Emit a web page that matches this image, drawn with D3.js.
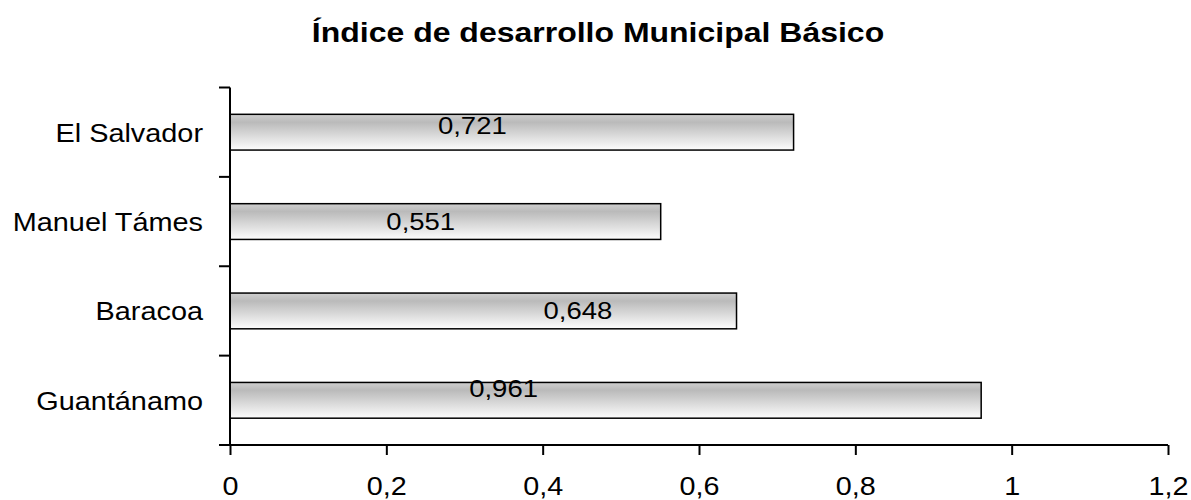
<!DOCTYPE html>
<html>
<head>
<meta charset="utf-8">
<script src="https://cdn.jsdelivr.net/npm/d3@7"></script>
<style>
  body { margin: 0; background: #fff; }
  text { font-family: "Liberation Sans", Arial, sans-serif; fill: #000; }
</style>
</head>
<body>
<div id="chart"></div>
<script>
// datos del grafico
var categories = ["El Salvador", "Manuel Támes", "Baracoa", "Guantánamo"];
var values = [0.721, 0.551, 0.648, 0.961];
// donde quedaron las etiquetas (en unidades del eje) y su desplazamiento vertical
var labelAt = [0.31, 0.244, 0.445, 0.350];
var labelShift = [-0.2, 0, 0, -0.33];
var xTicks = [0, 0.2, 0.4, 0.6, 0.8, 1, 1.2];

var width = 1191, height = 500;
var plotTop = 87.5, plotBottom = 445;

var svg = d3.select("#chart").append("svg")
  .attr("width", width)
  .attr("height", height);

var defs = svg.append("defs");
var grad = defs.append("linearGradient")
  .attr("id", "barGrad")
  .attr("x1", 0).attr("y1", 0).attr("x2", 0).attr("y2", 1);
grad.append("stop").attr("offset", "0%").attr("stop-color", "#cfcfcf");
grad.append("stop").attr("offset", "22%").attr("stop-color", "#bababa");
grad.append("stop").attr("offset", "100%").attr("stop-color", "#fdfdfd");

var x = d3.scaleLinear().domain([0, 1.2]).range([230, 1168]);
var y = d3.scaleBand().domain(categories)
  .range([plotTop, plotBottom])
  .paddingInner(0.6).paddingOuter(0.3);

// estira horizontalmente el texto como en el original
function stretch(sel, sx, px, py) {
  sel.attr("transform", "translate(" + px + "," + py + ") scale(" + sx + ",1)");
}

// titulo
svg.append("text")
  .attr("text-anchor", "middle")
  .attr("font-size", 27)
  .attr("font-weight", "bold")
  .text("Índice de desarrollo Municipal Básico")
  .call(stretch, 1.185, 598, 42);

// barras
svg.selectAll(".bar")
  .data(values)
  .enter()
  .append("rect")
  .attr("class", "bar")
  .attr("x", x(0))
  .attr("y", function (d, i) { return y(categories[i]); })
  .attr("width", function (d) { return x(d) - x(0); })
  .attr("height", y.bandwidth())
  .attr("fill", "url(#barGrad)")
  .attr("stroke", "#000")
  .attr("stroke-width", 1.5);

// etiquetas de valores
svg.selectAll(".lbl")
  .data(values)
  .enter()
  .append("text")
  .attr("class", "lbl")
  .attr("text-anchor", "middle")
  .attr("font-size", 23.5)
  .attr("transform", function (d, i) {
    var cy = y(categories[i]) + y.bandwidth() / 2 + labelShift[i] * y.bandwidth();
    return "translate(" + x(labelAt[i]) + "," + (cy + 8.5) + ") scale(1.17,1)";
  })
  .text(function (d) { return d3.format(".3f")(d).replace(".", ","); });

// eje x
var xAxis = d3.axisBottom(x)
  .tickValues(xTicks)
  .tickSize(10)
  .tickPadding(22)
  .tickFormat(function (d) { return String(d).replace(".", ","); });
var gx = svg.append("g")
  .attr("transform", "translate(0," + plotBottom + ")")
  .call(xAxis);
gx.select(".domain").attr("stroke", "#000").attr("stroke-width", 2)
  .attr("d", "M" + (x(0) - 11) + ",0H" + x(1.2));
gx.selectAll(".tick line").attr("stroke", "#000").attr("stroke-width", 2);
gx.selectAll(".tick text")
  .attr("font-size", 25)
  .attr("font-family", "Liberation Sans, Arial, sans-serif")
  .attr("dy", "0.71em")
  .attr("fill", "#000")
  .attr("transform", "scale(1.15,1)");

// eje y con marcas entre categorias
var ga = svg.append("g");
ga.append("line")
  .attr("x1", x(0)).attr("x2", x(0))
  .attr("y1", plotTop).attr("y2", plotBottom)
  .attr("stroke", "#000").attr("stroke-width", 2);
var edges = d3.range(categories.length + 1).map(function (i) {
  return plotTop + i * (plotBottom - plotTop) / categories.length;
});
ga.selectAll(".ytick")
  .data(edges)
  .enter()
  .append("line")
  .attr("x1", x(0) - 11).attr("x2", x(0))
  .attr("y1", function (d) { return d; })
  .attr("y2", function (d) { return d; })
  .attr("stroke", "#000").attr("stroke-width", 2);

ga.selectAll(".cat")
  .data(categories)
  .enter()
  .append("text")
  .attr("text-anchor", "end")
  .attr("font-size", 26)
  .attr("transform", function (d) {
    return "translate(203," + (y(d) + y.bandwidth() / 2 + 9.5) + ") scale(1.11,1)";
  })
  .text(function (d) { return d; });
</script>
</body>
</html>
